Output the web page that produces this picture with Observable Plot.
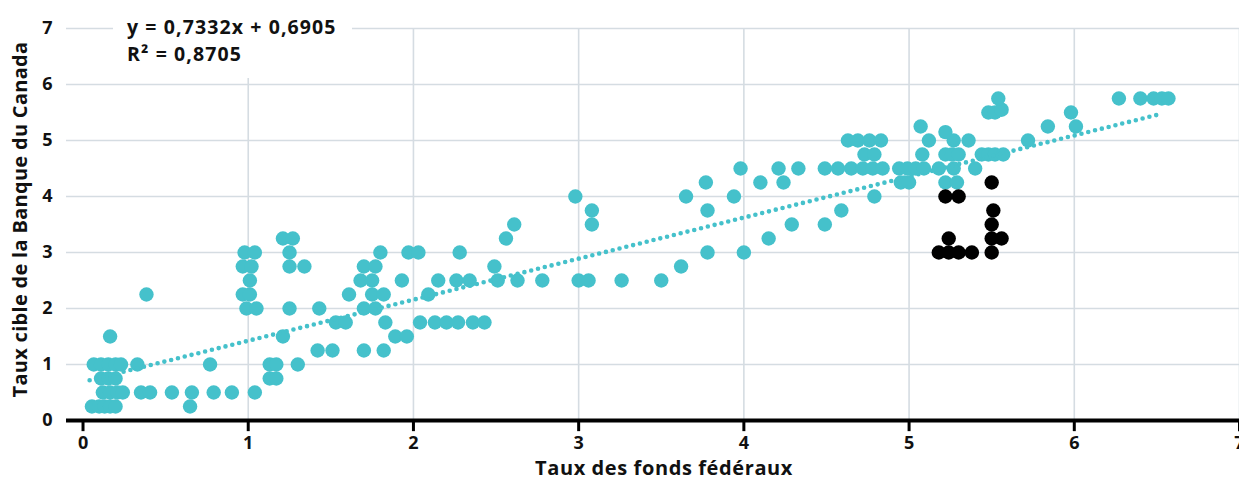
<!DOCTYPE html>
<html>
<head>
<meta charset="utf-8">
<script src="https://cdn.jsdelivr.net/npm/d3@7"></script>
<script src="https://cdn.jsdelivr.net/npm/@observablehq/plot@0.6"></script>
<style>
  html, body { margin: 0; padding: 0; background: #fff; }
  #wrap { position: relative; width: 1239px; height: 485px; overflow: hidden; }
  #eq { position: absolute; left: 113px; top: 0; width: 239px; height: 78px; background: #fff;
        font-family: "Open Sans", Roboto, sans-serif; font-weight: bold; font-size: 19.5px; letter-spacing: 1.1px; color: #111;
        box-sizing: border-box; padding-left: 14px; padding-top: 13px; line-height: 27px; white-space: nowrap; }
  svg .xtitle text { letter-spacing: 0.6px; }
  svg .ytitle text { letter-spacing: 0.3px; }
</style>
</head>
<body>
<div id="wrap"><div id="eq"></div></div>
<script>
const xTicks = [0, 1, 2, 3, 4, 5, 6, 7];
const yTicks = [0, 1, 2, 3, 4, 5, 6, 7];
const xTitle = "Taux des fonds fédéraux";
const yTitle = "Taux cible de la Banque du Canada";
const eqLines = ["y = 0,7332x + 0,6905", "R² = 0,8705"];
const trendSlope = 0.7332;
const trendIntercept = 0.6905;
const trendRange = [0.04, 6.5];

// Teal series: rows of [Bank of Canada target rate, federal funds rates]
const tealRows = [
  [0.25, [0.054, 0.098, 0.131, 0.164, 0.197, 0.648]],
  [0.5,  [0.120, 0.164, 0.208, 0.241, 0.351, 0.406, 0.538, 0.659, 0.791, 0.901, 1.04]],
  [0.75, [0.109, 0.153, 0.197, 1.13, 1.17]],
  [1.0,  [0.065, 0.109, 0.153, 0.197, 0.230, 0.329, 0.769, 1.13, 1.17, 1.30]],
  [1.25, [1.42, 1.51, 1.70, 1.82]],
  [1.5,  [0.164, 1.21, 1.89, 1.96]],
  [1.75, [1.53, 1.59, 1.83, 2.04, 2.13, 2.20, 2.27, 2.36, 2.43]],
  [2.0,  [0.989, 1.05, 1.25, 1.43, 1.70, 1.77]],
  [2.25, [0.384, 0.967, 1.01, 1.61, 1.75, 1.82, 2.09]],
  [2.5,  [1.01, 1.68, 1.75, 1.93, 2.15, 2.26, 2.34, 2.51, 2.63, 2.78, 3.00, 3.06, 3.26, 3.50]],
  [2.75, [0.967, 1.02, 1.25, 1.34, 1.70, 1.77, 2.49, 3.62]],
  [3.0,  [0.978, 1.04, 1.25, 1.80, 1.97, 2.03, 2.28, 3.78, 4.00]],
  [3.25, [1.21, 1.27, 2.56, 4.15]],
  [3.5,  [2.61, 3.08, 4.29, 4.49]],
  [3.75, [3.08, 3.78, 4.59]],
  [4.0,  [2.98, 3.65, 3.94, 4.79]],
  [4.25, [3.77, 4.10, 4.24, 4.95, 5.00, 5.22, 5.29]],
  [4.5,  [3.98, 4.21, 4.33, 4.49, 4.57, 4.65, 4.72, 4.78, 4.84, 4.94, 4.99, 5.04, 5.09, 5.18, 5.27, 5.40]],
  [4.75, [4.73, 4.79, 5.08, 5.22, 5.26, 5.30, 5.44, 5.48, 5.52, 5.57]],
  [5.0,  [4.63, 4.69, 4.76, 4.83, 5.12, 5.27, 5.36, 5.72]],
  [5.15, [5.22]],
  [5.25, [5.07, 5.84, 6.01]],
  [5.5,  [5.48, 5.52, 5.98]],
  [5.55, [5.56]],
  [5.75, [5.54, 6.27, 6.40, 6.48, 6.53, 6.57]]
];
// Black series
const blackX = [5.22, 5.30, 5.24, 5.18, 5.24, 5.30, 5.38, 5.50, 5.50, 5.51, 5.50, 5.50, 5.56];
const blackY = [4.0, 4.0, 3.25, 3.0, 3.0, 3.0, 3.0, 3.0, 4.25, 3.75, 3.5, 3.25, 3.25];

const teal = "#45c1cb";
const tealData = tealRows.flatMap(([y, xs]) => xs.map(x => ({x, y})));
const blackData = blackX.map((x, i) => ({x, y: blackY[i]}));
const trendData = trendRange.map(x => ({x, y: trendSlope * x + trendIntercept}));

document.getElementById("eq").innerHTML = eqLines.join("<br>");

const font = "'Open Sans', Roboto, sans-serif";
const chart = Plot.plot({
  width: 1239,
  height: 485,
  marginLeft: 66,
  marginRight: 0,
  marginTop: 28,
  marginBottom: 65,
  style: {fontFamily: font, fontSize: "18px", fontWeight: "bold", color: "#111", background: "white", overflow: "visible"},
  x: {domain: [-0.1, 7], ticks: xTicks, tickSize: 0, tickPadding: 16, label: null, tickFormat: d => String(d)},
  y: {domain: [0, 7], ticks: yTicks, tickSize: 0, tickPadding: 14, label: null, tickFormat: d => String(d)},
  marks: [
    Plot.ruleY(yTicks.slice(1), {stroke: "#d5dce2", strokeWidth: 1.6}),
    Plot.ruleX(xTicks.slice(1), {stroke: "#d5dce2", strokeWidth: 1.6}),
    Plot.dot(tealData, {x: "x", y: "y", r: 7.2, fill: teal}),
    Plot.dot(blackData, {x: "x", y: "y", r: 7.2, fill: "#000"}),
    Plot.line(trendData, {x: "x", y: "y", stroke: teal, strokeWidth: 4.6, strokeDasharray: "0 7", strokeLinecap: "round"}),
    Plot.link(xTicks, {x1: d => d, x2: d => d, y1: () => 0, y2: () => -0.19, stroke: "#000", strokeWidth: 3}),
    Plot.ruleY([0], {stroke: "#000", strokeWidth: 3.8}),
    Plot.text([xTitle], {frameAnchor: "bottom", textAnchor: "middle", dx: 11, dy: 54, fontSize: 20, fontWeight: "bold", fill: "#111", className: "xtitle"}),
    Plot.text([yTitle], {frameAnchor: "left", textAnchor: "middle", rotate: -90, dx: -46, dy: -5, fontSize: 20, fontWeight: "bold", fill: "#111", className: "ytitle"})
  ]
});
document.getElementById("wrap").insertBefore(chart, document.getElementById("eq"));
</script>
</body>
</html>
